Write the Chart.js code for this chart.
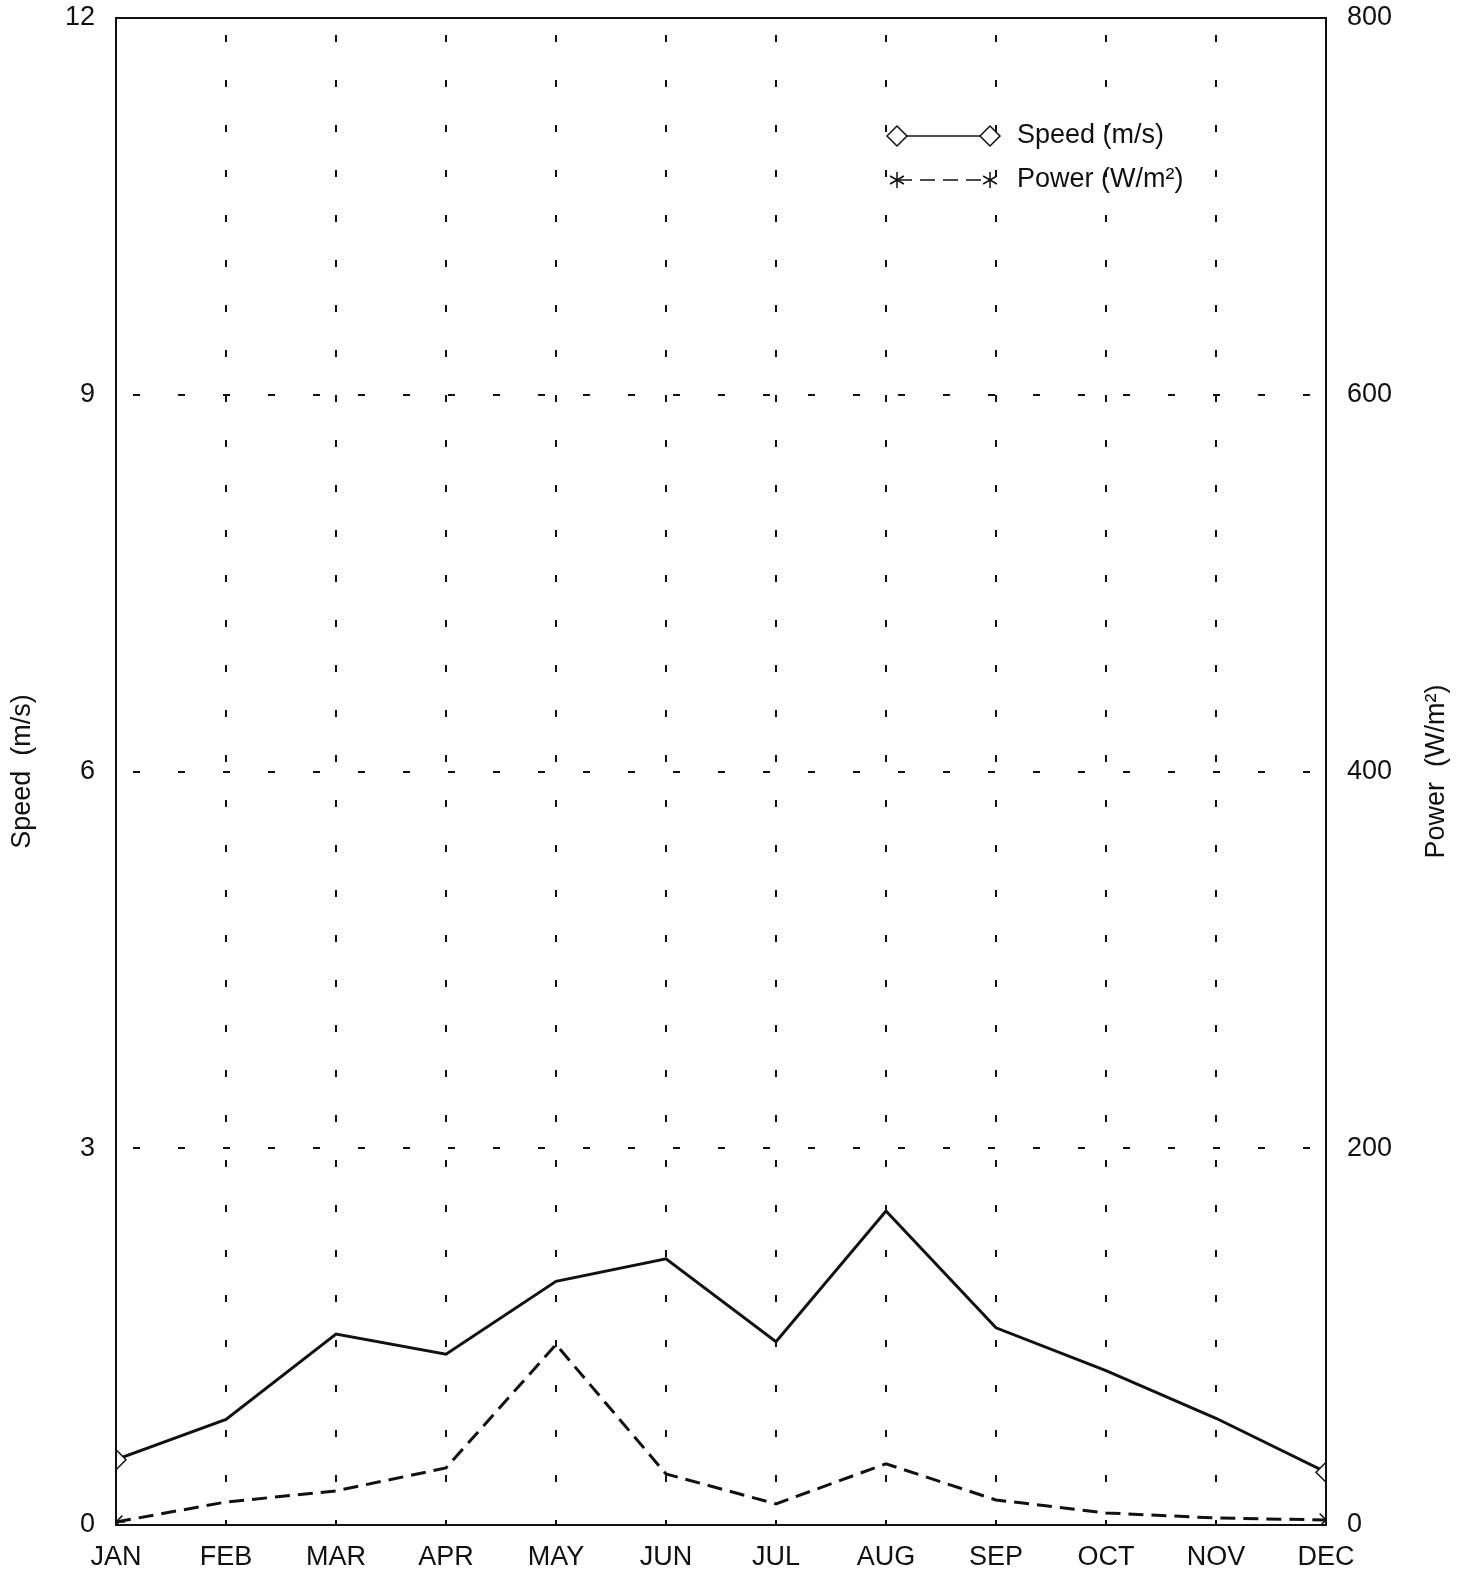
<!DOCTYPE html>
<html>
<head>
<meta charset="utf-8">
<script src="https://cdn.jsdelivr.net/npm/chart.js@4"></script>
<style>
  html, body { margin: 0; padding: 0; background: #fff; }
  #wrap { width: 1472px; height: 1570px; position: relative; }
</style>
</head>
<body>
<div id="wrap"><canvas id="windChart"></canvas></div>
<script>
/* ---- Data ---- */
const MONTHS      = ['JAN', 'FEB', 'MAR', 'APR', 'MAY', 'JUN', 'JUL', 'AUG', 'SEP', 'OCT', 'NOV', 'DEC'];
const SPEED_MS    = [0.52, 0.84, 1.52, 1.36, 1.94, 2.12, 1.46, 2.50, 1.57, 1.23, 0.85, 0.42];
const POWER_WM2   = [1.6, 12.2, 18.1, 30.3, 95.8, 27.1, 11.2, 32.5, 13.3, 6.4, 3.7, 2.7];
const SPEED_TICKS = [0, 3, 6, 9, 12];
const POWER_TICKS = [0, 200, 400, 600, 800];

const FONT = 'Liberation Sans';
const INK  = '#111';
const CLEAR = 'rgba(0,0,0,0)';

// markers only on the first and last point (clipped by the frame)
const endsOnly = (n, r) => Array.from({ length: n }, (_, i) => (i === 0 || i === n - 1) ? r : 0);

// fixed axis sizes, no extra label overflow padding
const fixY = w => s => { s.width = w; s.paddingTop = 0; s.paddingBottom = 0; };
const fixX = h => s => { s.height = h; s.paddingLeft = 0; s.paddingRight = 0; };

/* ---- Frame, right title, legend ---- */
const framePlugin = {
  id: 'frame',
  afterDraw(chart) {
    const { ctx, chartArea: a } = chart;
    ctx.save();
    ctx.strokeStyle = INK;
    ctx.lineWidth = 2;
    ctx.strokeRect(a.left, a.top, a.right - a.left, a.bottom - a.top);

    // right axis title, reading bottom-to-top like the left one
    ctx.save();
    ctx.translate(1437, (a.top + a.bottom) / 2);
    ctx.rotate(-Math.PI / 2);
    ctx.font = '27px "' + FONT + '"';
    ctx.fillStyle = INK;
    ctx.textAlign = 'center';
    ctx.textBaseline = 'middle';
    ctx.fillText('Power  (W/m\u00B2)', 0, 0);
    ctx.restore();

    // legend
    const x0 = 897, x1 = 990, tx = 1017;
    const rows = [
      { y: 136, dash: [], text: 'Speed (m/s)', mark: 'diamond' },
      { y: 180, dash: [15, 8], text: 'Power (W/m\u00B2)', mark: 'star' }
    ];
    ctx.font = '27px "' + FONT + '"';
    ctx.textBaseline = 'middle';
    ctx.textAlign = 'left';
    rows.forEach(r => {
      ctx.setLineDash(r.dash);
      ctx.lineWidth = 1.5;
      ctx.beginPath();
      ctx.moveTo(x0, r.y); ctx.lineTo(x1, r.y);
      ctx.stroke();
      ctx.setLineDash([]);
      [x0, x1].forEach(x => {
        ctx.beginPath();
        if (r.mark === 'diamond') {
          ctx.moveTo(x - 10, r.y); ctx.lineTo(x, r.y - 10);
          ctx.lineTo(x + 10, r.y); ctx.lineTo(x, r.y + 10);
          ctx.closePath();
          ctx.fillStyle = '#fff';
          ctx.fill();
        } else {
          for (let k = 0; k < 3; k++) {
            const ang = Math.PI / 2 + k * Math.PI / 3;
            ctx.moveTo(x - 8 * Math.cos(ang), r.y - 8 * Math.sin(ang));
            ctx.lineTo(x + 8 * Math.cos(ang), r.y + 8 * Math.sin(ang));
          }
        }
        ctx.stroke();
      });
      ctx.fillStyle = INK;
      ctx.fillText(r.text, tx, r.y);
    });
    ctx.restore();
  }
};

new Chart(document.getElementById('windChart').getContext('2d'), {
  type: 'line',
  data: {
    labels: MONTHS,
    datasets: [
      {
        label: 'Speed (m/s)',
        data: SPEED_MS,
        yAxisID: 'ySpeed',
        borderColor: INK,
        borderWidth: 3,
        tension: 0,
        fill: false,
        pointStyle: 'rectRot',
        pointRadius: endsOnly(MONTHS.length, 10),
        pointBackgroundColor: '#fff',
        pointBorderColor: INK,
        pointBorderWidth: 1.5,
        clip: 0
      },
      {
        label: 'Power (W/m\u00B2)',
        data: POWER_WM2,
        yAxisID: 'yPower',
        borderColor: INK,
        borderWidth: 3,
        borderDash: [15, 8],
        tension: 0,
        fill: false,
        pointStyle: 'star',
        pointRadius: endsOnly(MONTHS.length, 9),
        pointBorderColor: INK,
        pointBorderWidth: 1.5,
        clip: 0
      }
    ]
  },
  options: {
    responsive: true,
    maintainAspectRatio: false,
    animation: false,
    layout: { padding: { top: 18, left: 0, right: 0, bottom: 0 } },
    plugins: {
      legend: { display: false },
      tooltip: { enabled: false }
    },
    scales: {
      x: {
        offset: false,
        border: { display: false, dash: [7, 38], dashOffset: 28 },
        grid: {
          color: ctx => (ctx.index === 0 || ctx.index === MONTHS.length - 1) ? CLEAR : INK,
          lineWidth: 2,
          drawTicks: false
        },
        ticks: {
          color: INK,
          font: { family: FONT, size: 27 },
          padding: 16,
          maxRotation: 0,
          autoSkip: false
        },
        afterFit: fixX(45)
      },
      ySpeed: {
        position: 'left',
        min: 0,
        max: 12,
        afterBuildTicks: s => { s.ticks = SPEED_TICKS.map(v => ({ value: v })); },
        border: { display: false, dash: [7, 38], dashOffset: 28 },
        grid: {
          color: ctx => (ctx.tick && (ctx.tick.value === 0 || ctx.tick.value === 12)) ? CLEAR : INK,
          lineWidth: 2,
          drawTicks: false
        },
        ticks: {
          color: INK,
          font: { family: FONT, size: 27 },
          padding: 21
        },
        title: {
          display: true,
          text: 'Speed  (m/s)',
          color: INK,
          font: { family: FONT, size: 27 },
          padding: { top: 6, bottom: 0 }
        },
        afterFit: fixY(116)
      },
      yPower: {
        position: 'right',
        min: 0,
        max: 800,
        afterBuildTicks: s => { s.ticks = POWER_TICKS.map(v => ({ value: v })); },
        border: { display: false },
        grid: { display: false, drawTicks: false },
        ticks: {
          color: INK,
          font: { family: FONT, size: 27 },
          padding: 21
        },
        afterFit: fixY(146)
      }
    }
  },
  plugins: [framePlugin]
});
</script>
</body>
</html>
